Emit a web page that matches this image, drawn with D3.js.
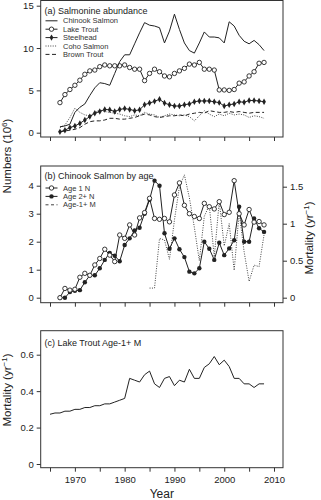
<!DOCTYPE html>
<html>
<head>
<meta charset="utf-8">
<script src="https://cdn.jsdelivr.net/npm/d3@7"></script>
<style>
  body { margin: 0; background: #fff; }
  svg { display: block; font-family: 'Liberation Sans', Arial, sans-serif; }
</style>
</head>
<body>
<svg id="canvas" width="321" height="500"></svg>
<script>
// ************************************************************************************** //
// Data

var years_a = d3.range(1967, 2009);
var chinook     = [0.7,0.8,1.0,2.4,3.0,3.4,4.4,5.3,5.9,5.8, 5.6,7.0,8.4,9.2,9.2,10.5,11.8,13.0,12.7,12.6, 12.4,10.6,12.0,14.0,12.2,10.6,9.7,9.4,10.6,11.9, 11.3,11.3,11.2,10.6,13.1,12.6,11.5,10.8,10.5,10.9, 10.4,9.7];
var lake_trout  = [3.55,4.5,5.1,5.6,6.2,6.9,7.3,7.4,7.8,8.0, 7.9,7.9,7.9,8.0,7.7,7.5,7.5,6.15,7.0,7.5, 7.2,6.7,6.6,7.0,7.3,7.6,8.1,8.0,8.3,7.5, 7.5,7.4,5.05,5.05,5.0,5.1,5.85,6.0,6.7,7.2, 8.2,8.3];
var steelhead   = [0.1,0.3,0.6,0.8,1.1,1.5,1.9,2.3,2.5,2.75, 2.7,2.5,2.75,2.85,2.75,2.6,2.7,3.3,3.5,3.7, 3.95,3.5,3.3,3.15,3.15,3.3,3.4,3.65,3.75,3.75, 3.75,3.65,3.55,3.15,3.3,3.4,3.65,3.6,3.8,3.8, 3.75,3.65];
var coho        = [0.6,0.9,1.8,2.9,2.4,2.1,2.0,2.4,2.7,2.5, 2.4,2.3,2.2,2.0,1.9,2.1,2.0,2.4,2.2,2.1, 1.8,2.0,2.2,2.1,2.0,2.1,1.9,1.4,2.0,2.6, 2.2,1.9,2.2,2.0,2.3,2.1,2.2,2.1,1.8,2.0, 1.9,1.7];
var brown_trout = [0.1,0.2,0.3,0.4,0.6,1.0,1.3,1.4,1.4,1.5, 1.7,1.7,1.6,1.6,1.7,1.8,2.0,2.2,2.1,1.9, 1.8,1.9,2.0,2.0,2.1,2.0,2.2,2.3,2.4,2.3, 2.6,2.5,2.4,2.4,2.5,2.4,2.5,2.4,2.3,2.4, 2.4,2.4];

var years_b = d3.range(1967, 2009);
var age1_n = [0.0,0.33,0.27,0.3,0.73,0.87,0.8,1.17,1.4,1.73, 1.52,1.29,2.24,2.12,2.6,2.24,2.85,3.04,3.55,2.83, 2.8,2.83,2.71,3.67,4.1,3.3,3.0,2.9,2.83,3.37, 3.25,3.17,3.43,2.97,3.05,4.18,3.0,2.6,3.15,2.7, 2.72,2.6];
var age2_n = [0.0,0.0,0.2,0.25,0.27,0.55,0.8,0.8,1.05,1.35, 1.6,1.5,1.3,1.88,2.12,2.4,2.5,3.0,3.5,4.18, 4.0,2.3,1.75,2.12,1.73,1.45,0.93,0.87,1.05,2.0, 1.75,1.35,1.96,1.52,1.76,2.05,3.25,2.0,2.0,2.83, 2.48,2.35];
var years_m = d3.range(1985, 2009);
var age1_m = [0.13,0.13,0.8,0.78,0.52,1.05,1.5,1.66,1.35,0.95, 0.5,1.1,1.25,0.55,1.3,0.7,1.0,0.37,1.15,0.62, 0.22,0.44,0.42,0.85];

var years_c = d3.range(1965, 2009);
var lt_mort = [0.273,0.28,0.28,0.29,0.29,0.30,0.30,0.31,0.31,0.32, 0.32,0.33,0.33,0.34,0.35,0.36,0.47,0.46,0.45,0.49, 0.51,0.44,0.42,0.47,0.48,0.43,0.46,0.45,0.52,0.47, 0.47,0.53,0.55,0.59,0.545,0.57,0.535,0.47,0.47,0.44, 0.44,0.42,0.44,0.44];

var x_ticks = [1965,1970,1975,1980,1985,1990,1995,2000,2005,2010];
var x_labels = [1970,1980,1990,2000,2010];
var ticks_a = [0,5,10,15];
var ticks_b = [0,1,2,3,4];
var ticks_b_right = [0,0.5,1,1.5];
var ticks_c = [0,0.2,0.4,0.6];

var legend_a = ['Chinook Salmon','Lake Trout','Steelhead','Coho Salmon','Brown Trout'];
var legend_b = ['Age 1 N','Age 2+ N','Age-1+ M'];

// ************************************************************************************** //
// Setup

var svg = d3.select('#canvas');
var ink = '#222';
var box_l = 40.7, box_r = 283;
var x = d3.scaleLinear().domain([1965, 2010]).range([50, 274]);

function zip(xs, ys){ return xs.map(function(d,i){ return [d, ys[i]]; }); }

function drawBox(top, bottom){
  svg.append('rect').attr('x', box_l).attr('y', top).attr('width', box_r-box_l).attr('height', bottom-top)
    .attr('fill', 'none').attr('stroke', '#333').attr('stroke-width', 1);
}

function styleAxis(g){
  g.select('.domain').remove();
  g.selectAll('line').attr('stroke', '#333');
  g.selectAll('text').attr('fill', ink).attr('font-size', 9.5).attr('font-family', null);
}

function drawXAxis(bottom, labelled){
  var ax = d3.axisBottom(x).tickValues(x_ticks).tickSize(4).tickPadding(5)
    .tickFormat(function(d){ return labelled && x_labels.indexOf(d) >= 0 ? d : ''; });
  svg.append('g').attr('transform', 'translate(0,' + bottom + ')').call(ax).call(styleAxis);
}

function drawYAxis(y, ticks){
  var ax = d3.axisLeft(y).tickValues(ticks).tickSize(4).tickPadding(3).tickFormat(String);
  svg.append('g').attr('transform', 'translate(' + box_l + ',0)').call(ax).call(styleAxis);
}

function drawLine(y, pts, dash, colour){
  var line = d3.line().x(function(d){ return x(d[0]); }).y(function(d){ return y(d[1]); });
  svg.append('path').attr('d', line(pts)).attr('fill', 'none').attr('stroke', colour || ink)
    .attr('stroke-width', 1).attr('stroke-dasharray', dash || null);
}

function drawMarks(y, pts, kind){
  var g = svg.append('g');
  pts.forEach(function(d){ marker(g, x(d[0]), y(d[1]), kind); });
}

function marker(g, cx, cy, kind){
  if (kind == 'open') g.append('circle').attr('cx', cx).attr('cy', cy).attr('r', 2.2).attr('fill', '#fff').attr('stroke', ink).attr('stroke-width', 0.9);
  if (kind == 'dot') g.append('circle').attr('cx', cx).attr('cy', cy).attr('r', 2.2).attr('fill', ink);
  if (kind == 'diamond') g.append('path').attr('d', d3.symbol(d3.symbolDiamond, 12)()).attr('transform', 'translate(' + cx + ',' + cy + ')').attr('fill', ink);
}

function legend(items, styles, y0){
  items.forEach(function(t, i){
    var yy = y0 + i*8.4, s = styles[i];
    svg.append('line').attr('x1', 45.5).attr('x2', 57.5).attr('y1', yy).attr('y2', yy)
      .attr('stroke', s.colour || ink).attr('stroke-width', 1).attr('stroke-dasharray', s.dash || null);
    if (s.mark) marker(svg, 51.5, yy, s.mark);
    svg.append('text').attr('x', 63).attr('y', yy).attr('dy', '0.35em').attr('font-size', 7.5).attr('fill', '#333').text(t);
  });
}

function title(txt, yy){
  svg.append('text').attr('x', 44.5).attr('y', yy).attr('font-size', 9).attr('fill', ink).text(txt);
}

function sideLabel(cx, cy, main, sup, tail, size){
  var t = svg.append('text').attr('transform', 'translate(' + cx + ',' + cy + ') rotate(-90)')
    .attr('text-anchor', 'middle').attr('font-size', size).attr('fill', ink);
  t.append('tspan').text(main);
  t.append('tspan').attr('dy', -4.5).attr('font-size', size*0.7).text(sup);
  t.append('tspan').attr('dy', 4.5).text(tail);
}

// ************************************************************************************** //
// (a) Salmonine abundance

var ya = d3.scaleLinear().domain([0, 15]).range([132.7, 5.7]);
drawBox(0.5, 137);
drawXAxis(137, false);
drawYAxis(ya, ticks_a);
drawLine(ya, zip(years_a, coho), '1,1.4', '#444');
drawLine(ya, zip(years_a, brown_trout), '4,2.5');
drawLine(ya, zip(years_a, steelhead));
drawMarks(ya, zip(years_a, steelhead), 'diamond');
drawLine(ya, zip(years_a, lake_trout));
drawMarks(ya, zip(years_a, lake_trout), 'open');
drawLine(ya, zip(years_a, chinook));
title('(a) Salmonine abundance', 13.5);
legend(legend_a, [{}, {mark: 'open'}, {mark: 'diamond'}, {dash: '1,1.4', colour: '#444'}, {dash: '4,2.5'}], 20.8);

// ************************************************************************************** //
// (b) Chinook Salmon by age

var yb = d3.scaleLinear().domain([0, 4]).range([297.7, 185.7]);
var yb2 = d3.scaleLinear().domain([0, 1.5]).range([297.7, 186.7]);
drawBox(166, 302.7);
drawXAxis(302.7, false);
drawYAxis(yb, ticks_b);
svg.append('g').attr('transform', 'translate(' + box_r + ',0)')
  .call(d3.axisRight(yb2).tickValues(ticks_b_right).tickSize(4).tickPadding(3).tickFormat(String)).call(styleAxis);
drawLine(yb2, zip(years_m, age1_m), '1,1.4', '#444');
drawLine(yb, zip(years_b, age2_n));
drawMarks(yb, zip(years_b, age2_n), 'dot');
drawLine(yb, zip(years_b, age1_n));
drawMarks(yb, zip(years_b, age1_n), 'open');
title('(b) Chinook Salmon by age', 179);
legend(legend_b, [{mark: 'open'}, {mark: 'dot'}, {dash: '3,2.5', colour: '#444'}], 188);

// ************************************************************************************** //
// (c) Lake Trout Age-1+ M

var yc = d3.scaleLinear().domain([0, 0.6]).range([464, 354.7]);
drawBox(330.7, 467.7);
drawXAxis(467.7, true);
drawYAxis(yc, ticks_c);
drawLine(yc, zip(years_c, lt_mort));
title('(c) Lake Trout Age-1+ M', 345.5);

// ************************************************************************************** //
// Axis titles

sideLabel(11, 156, 'Numbers (10', '6', ')', 11.5);
sideLabel(313, 238, 'Mortality (yr', '\u22121', ')', 11.5);
sideLabel(11, 390, 'Mortality (yr', '\u22121', ')', 11.5);
svg.append('text').attr('x', (box_l+box_r)/2).attr('y', 498).attr('text-anchor', 'middle')
  .attr('font-size', 12).attr('fill', ink).text('Year');
</script>
</body>
</html>
